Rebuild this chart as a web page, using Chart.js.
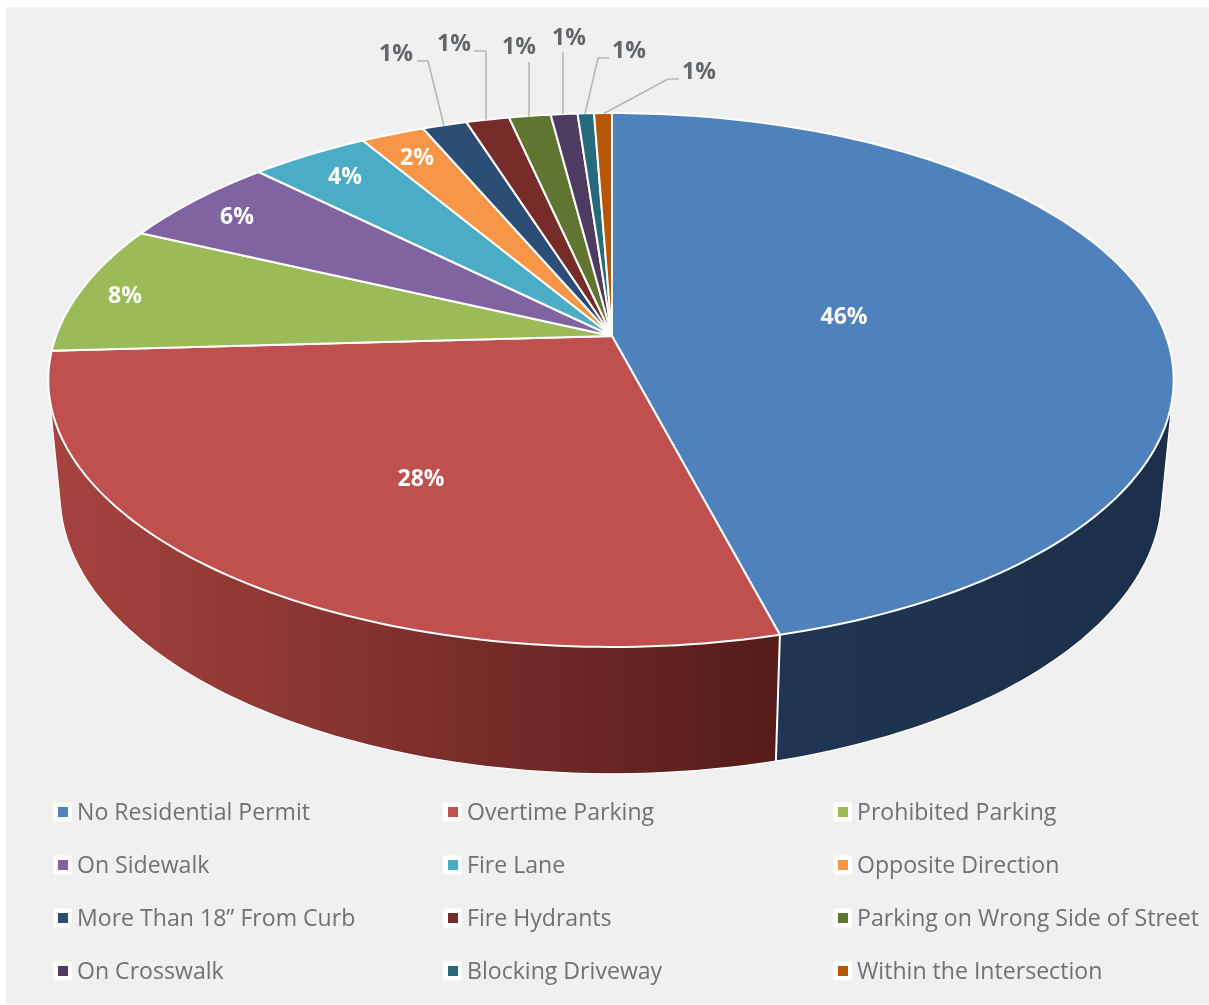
<!DOCTYPE html>
<html>
<head>
<meta charset="utf-8">
<style>html,body{margin:0;padding:0;background:#fff;overflow:hidden}canvas{display:block}</style>
<script src="https://cdn.jsdelivr.net/npm/chart.js@4"></script>
</head>
<body>
<canvas id="c" width="1209" height="1005"></canvas>
<script>
const categories = ["No Residential Permit","Overtime Parking","Prohibited Parking","On Sidewalk","Fire Lane","Opposite Direction","More Than 18\u201D From Curb","Fire Hydrants","Parking on Wrong Side of Street","On Crosswalk","Blocking Driveway","Within the Intersection"];
const shares = [45.9,28.2,7.85,5.5,4.0,2.15,1.5,1.45,1.4,0.9,0.55,0.6];
const shareLabels = ["46%","28%","8%","6%","4%","2%","1%","1%","1%","1%","1%","1%"];
const faceColors = ["#4f81bd","#c0504d","#9bbb59","#8064a2","#4bacc6","#f79646","#2c4d75","#772c2a","#5f7530","#4d3b62","#276a7c","#b65708"];
const wallStops = [["#1c2f4a","#1f3552"],["#a6433f","#551c1a"]];

const geo = {cx:612, cy:336, Rr:554, Rl:556, B:259.7, k:0.1648, m:0.0206, D:115, frontY:0.22};
const insideAt = [[844,316],[421,478],[125,295],[237,216],[345,176],[417,157]];
const outsideAt = {6:[396,53],7:[454,43],8:[519,46],9:[569,37],10:[629,50],11:[699,71]};
const leaders = {6:[[417,61],[428,61],[444,126]],7:[[474,51],[486,51],[486,120]],8:[[529,62],[529,117]],9:[[563,52],[563,114]],10:[[609,58],[598,58],[585,114]],11:[[679,79],[668,79],[603,114]]};
const legendCols = [54,444,834], legendRows = [812,865,918,971];

function project(a, r, low){
  const x = r*Math.cos(a), y = r*Math.sin(a);
  const w = 1 - geo.k*y + (low ? geo.m : 0);
  return [geo.cx + (x<0?geo.Rl:geo.Rr)*x/w, geo.cy + (geo.B*y + (low ? geo.D : 0))/w];
}
function steps(a0, a1){
  const n = Math.max(2, Math.ceil(Math.abs(a1-a0)/0.02)), p = [];
  for(let i=0;i<=n;i++) p.push(a0+(a1-a0)*i/n);
  return p;
}
function trace(ctx, pts){
  ctx.beginPath();
  pts.forEach((p,i)=> i ? ctx.lineTo(p[0],p[1]) : ctx.moveTo(p[0],p[1]));
}

const piePerspective = {
  id:'piePerspective',
  beforeDraw(chart){
    const ctx = chart.ctx;
    ctx.save();
    ctx.fillStyle = '#f0f0f0';
    ctx.fillRect(6,7,1203,997);
    ctx.restore();
  },
  beforeDatasetDraw(chart){
    const ctx = chart.ctx, arcs = chart.getDatasetMeta(0).data;
    const frontStart = Math.asin(geo.frontY), frontEnd = Math.PI - frontStart;
    ctx.save();
    ctx.lineJoin = 'round';
    // walls of the slices facing the viewer
    arcs.forEach((el,i)=>{
      const a0 = Math.max(el.startAngle, frontStart), a1 = Math.min(el.endAngle, frontEnd);
      if(a0 >= a1) return;
      const as = steps(a0, a1);
      const g = i===0 ? ctx.createLinearGradient(1165,0,776,0) : ctx.createLinearGradient(56,0,776,0);
      g.addColorStop(0, wallStops[i][0]);
      g.addColorStop(1, wallStops[i][1]);
      trace(ctx, as.map(a=>project(a,1,false)).concat(as.slice().reverse().map(a=>project(a,1,true))));
      ctx.closePath();
      ctx.fillStyle = g;
      ctx.fill();
    });
    // wall outline: side edges and lower rim
    ctx.strokeStyle = '#ffffff';
    ctx.lineWidth = 1.3;
    const rim = steps(frontStart, frontEnd);
    trace(ctx, [project(frontStart,1,false)].concat(rim.map(a=>project(a,1,true)), [project(frontEnd,1,false)]));
    ctx.stroke();
    // seams between walls
    ctx.lineWidth = 2;
    arcs.forEach(el=>{
      if(el.endAngle > frontStart && el.endAngle < frontEnd){
        trace(ctx,[project(el.endAngle,1,false),project(el.endAngle,1,true)]);
        ctx.stroke();
      }
    });
    // top faces
    arcs.forEach((el,i)=>{
      const pts = [[geo.cx,geo.cy]].concat(steps(el.startAngle, el.endAngle).map(a=>project(a,1,false)));
      trace(ctx, pts);
      ctx.closePath();
      ctx.fillStyle = faceColors[i];
      ctx.fill();
      ctx.strokeStyle = '#ffffff';
      ctx.lineWidth = 2;
      ctx.stroke();
    });
    ctx.restore();
    return false;
  },
  afterDraw(chart){
    const ctx = chart.ctx;
    ctx.save();
    ctx.textAlign = 'center';
    ctx.textBaseline = 'middle';
    ctx.font = 'bold 23px "Open Sans"';
    shareLabels.forEach((t,i)=>{
      if(insideAt[i]){
        ctx.fillStyle = '#ffffff';
        ctx.fillText(t, insideAt[i][0], insideAt[i][1]+1);
      } else {
        ctx.strokeStyle = '#b5b5b5';
        ctx.lineWidth = 1.5;
        trace(ctx, leaders[i]);
        ctx.stroke();
        ctx.fillStyle = '#62666a';
        ctx.fillText(t, outsideAt[i][0], outsideAt[i][1]+1);
      }
    });
    ctx.textAlign = 'left';
    ctx.font = '23.1px "Open Sans"';
    categories.forEach((t,i)=>{
      const x = legendCols[i%3], y = legendRows[Math.floor(i/3)];
      ctx.fillStyle = '#ffffff';
      ctx.beginPath();
      ctx.roundRect(x-1, y-9.5, 19, 19, 2);
      ctx.fill();
      ctx.fillStyle = faceColors[i];
      ctx.fillRect(x+4, y-5, 10, 10);
      ctx.fillStyle = '#707174';
      ctx.fillText(t, x+23, y+1);
    });
    ctx.restore();
  }
};

new Chart(document.getElementById('c'), {
  type:'pie',
  data:{labels:categories, datasets:[{data:shares, backgroundColor:faceColors, borderColor:'#fff'}]},
  options:{
    responsive:false, animation:false,
    plugins:{legend:{display:false}, tooltip:{enabled:false}}
  },
  plugins:[piePerspective]
});
</script>
</body>
</html>
